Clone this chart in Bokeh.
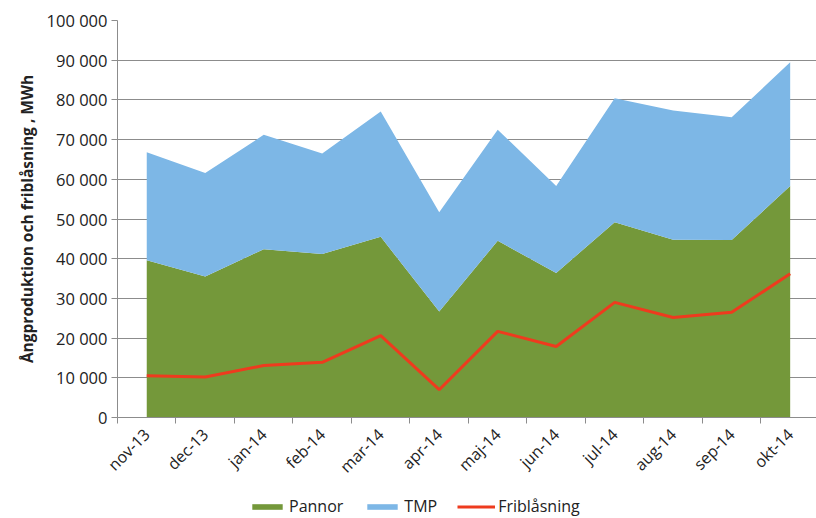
from math import pi
from bokeh.plotting import figure
from bokeh.layouts import column
from bokeh.models import (ColumnDataSource, Range1d, FixedTicker, CustomJSTickFormatter,
                          Legend, LegendItem)
from bokeh.embed import file_html
from bokeh.resources import INLINE

months = ["nov-13", "dec-13", "jan-14", "feb-14", "mar-14", "apr-14",
          "maj-14", "jun-14", "jul-14", "aug-14", "sep-14", "okt-14"]
pannor = [39600, 35500, 42400, 41200, 45500, 26700, 44500, 36400, 49200, 44800, 44700, 58300]
tmp = [27200, 26100, 28800, 25300, 31600, 25000, 28000, 21900, 31200, 32500, 30900, 31200]
friblasning = [10500, 10200, 13100, 13900, 20600, 7000, 21700, 17900, 29000, 25200, 26500, 36200]
y_ticks = [0, 10000, 20000, 30000, 40000, 50000, 60000, 70000, 80000, 90000, 100000]
series_names = ["Pannor", "TMP", "Friblåsning"]

GREEN = "#74983A"
BLUE = "#7DB7E6"
RED = "#EE3B1E"
FONT = "Open Sans"

xs = list(range(len(months)))
src = ColumnDataSource(dict(x=xs, Pannor=pannor, TMP=tmp, Fribl=friblasning))

p = figure(width=816, height=490, output_backend="svg", toolbar_location=None,
           x_range=Range1d(-0.5, 11.45), y_range=Range1d(0, 100000),
           min_border_left=117, min_border_right=0, min_border_top=20,
           min_border_bottom=73, background_fill_color="white",
           border_fill_color="white")
p.outline_line_color = None

areas = p.varea_stack(stackers=["Pannor", "TMP"], x="x", source=src,
                      color=[GREEN, BLUE])
line = p.line("x", "Fribl", source=src, line_color=RED, line_width=3)

# y axis
p.yaxis.ticker = FixedTicker(ticks=y_ticks)
p.yaxis.formatter = CustomJSTickFormatter(code="""
return Math.round(tick).toString().replace(/\\B(?=(\\d{3})+(?!\\d))/g, ' ');
""")
p.yaxis.axis_label = "Ångproduktion och friblåsning , MWh"
p.yaxis.axis_label_text_font = FONT
p.yaxis.axis_label_text_font_style = "bold"
p.yaxis.axis_label_text_font_size = "15.5px"
p.yaxis.axis_label_text_color = "#222222"
p.yaxis.axis_label_standoff = 6
p.yaxis.major_label_text_font = FONT
p.yaxis.major_label_text_font_size = "16.5px"
p.yaxis.major_label_text_color = "#222222"
p.yaxis.major_label_standoff = 4
p.yaxis.major_tick_out = 6
p.yaxis.major_tick_in = 0
p.yaxis.minor_tick_out = 0
p.yaxis.minor_tick_in = 0
p.yaxis.axis_line_color = "#8C8C8C"
p.yaxis.major_tick_line_color = "#8C8C8C"

# x axis
p.xaxis.ticker = FixedTicker(ticks=xs, minor_ticks=[i - 0.5 for i in range(len(months) + 1)])
p.xaxis.major_label_overrides = {i: m for i, m in enumerate(months)}
p.xaxis.major_label_orientation = pi / 4
p.xaxis.major_label_text_font = FONT
p.xaxis.major_label_text_font_size = "16px"
p.xaxis.major_label_text_color = "#222222"
p.xaxis.major_label_standoff = 8
p.xaxis.major_tick_out = 0
p.xaxis.major_tick_in = 0
p.xaxis.minor_tick_out = 6
p.xaxis.minor_tick_in = 0
p.xaxis.minor_tick_line_color = "#8C8C8C"
p.xaxis.axis_line_color = "#8C8C8C"

p.xgrid.grid_line_color = None
p.ygrid.grid_line_color = "#8C8C8C"
p.ygrid.grid_line_width = 1

# legend strip below the chart (its frame is aligned with the main frame by the column)
lg = figure(width=816, height=28, output_backend="svg", toolbar_location=None,
            x_range=Range1d(0, 1), y_range=Range1d(0, 1),
            x_axis_type=None, y_axis_type=None,
            min_border_left=0, min_border_right=0, min_border_top=0, min_border_bottom=0,
            background_fill_color="white", border_fill_color="white")
lg.outline_line_color = None
lg.grid.grid_line_color = None
# proxy glyphs that sit outside the visible range, used only for legend swatches
r1 = lg.varea(x=[5, 6], y1=[5, 5], y2=[6, 6], color=GREEN)
r2 = lg.varea(x=[5, 6], y1=[5, 5], y2=[6, 6], color=BLUE)
r3 = lg.line(x=[5, 6], y=[5, 6], line_color=RED, line_width=3)

legend = Legend(items=[LegendItem(label=series_names[0], renderers=[r1]),
                       LegendItem(label=series_names[1], renderers=[r2]),
                       LegendItem(label=series_names[2], renderers=[r3])],
                orientation="horizontal", location=(131, 1),
                border_line_color=None, background_fill_alpha=0,
                padding=0, margin=0, spacing=20,
                glyph_width=38, glyph_height=7, label_standoff=3,
                label_text_font=FONT, label_text_font_size="16px",
                label_text_color="#222222")
lg.add_layout(legend, "center")

layout = column(p, lg, spacing=0)
open("out.html", "w").write(file_html(layout, INLINE))
